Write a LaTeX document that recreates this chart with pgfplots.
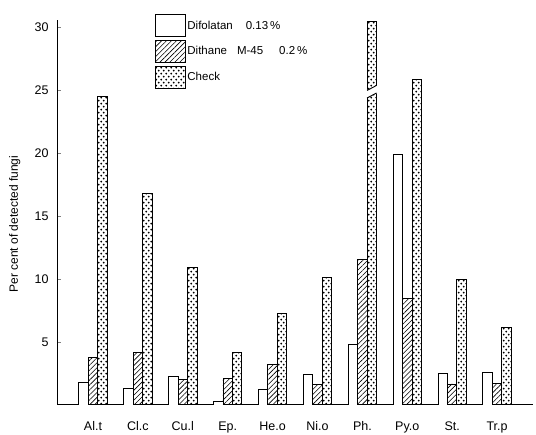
\documentclass[border=0pt]{standalone}
\usepackage{pgfplots}
\pgfplotsset{compat=1.18}
\usepackage{fontspec}
\setmainfont{Liberation Sans}
\usetikzlibrary{patterns,patterns.meta}
\tikzdeclarepattern{
  name=bigdots,
  type=uncolored,
  bottom left={(-.1pt,-.1pt)},
  top right={(5.1pt,6.1pt)},
  tile size={(5pt,6pt)},
  code={\fill (1.2pt,1.4pt) circle (1pt); \fill (3.7pt,4.4pt) circle (1pt);}
}
\pgfplotstableread{
x a b c
0 1.8 3.75 24.5
1 1.3 4.2 16.8
2 2.3 2.05 10.9
3 0.25 2.1 4.2
4 1.2 3.2 7.3
5 2.4 1.6 10.1
6 4.8 11.6 30.5
7 19.9 8.5 25.9
8 2.5 1.67 10.0
9 2.6 1.7 6.2
}\data
\begin{document}
\begin{tikzpicture}
\begin{axis}[
  name=ax,
  scale only axis,
  width=475pt, height=385pt,
  xmin=-0.78, xmax=9.8,
  ymin=0, ymax=30.6,
  axis x line=bottom, axis y line=left,
  axis line style={-, line width=1pt},
  ytick={5,10,15,20,25,30},
  xtick={0,...,9},
  xticklabels={Al.t, Cl.c, Cu.l, Ep., He.o, Ni.o, Ph., Py.o, St., Tr.p},
  major x tick style={draw=none},
  major y tick style={line width=0.8pt},
  tick align=inside,
  major tick length=3pt,
  /pgf/number format/assume math mode=true,
  yticklabel style={font=\fontsize{12.5}{14}\selectfont, xshift=-6pt},
  xticklabel style={font=\fontsize{12.5}{14}\selectfont, yshift=-10pt},
  ylabel={Per cent of detected fungi},
  ylabel style={font=\fontsize{12}{14}\selectfont, at={(axis description cs:-0.072,0.47)}},
  ybar, bar width=0.21,
  legend style={draw=none, fill=none, at={(axis description cs:0.203,1.0156)}, anchor=north west,
    font=\fontsize{11.5}{13}\selectfont, row sep=3pt, inner sep=0pt, cells={anchor=west}},
  legend image code/.code={\draw[#1, line width=0.8pt] (0pt,-11pt) rectangle (30pt,11pt);},
]
\addplot[draw=black, line width=0.9pt, fill=white, bar shift=-0.21] table[x=x,y=a]{\data};
\addlegendentry{Difolatan\hspace{13pt}0.13\,\%}
\addplot[draw=black, line width=0.9pt, pattern={Lines[angle=45,distance=3.5pt,line width=0.6pt]}, bar shift=0] table[x=x,y=b]{\data};
\addlegendentry{Dithane\hspace{10pt}M-45\hspace{16pt}0.2\,\%}
\addplot[draw=black, line width=0.9pt, pattern=bigdots, pattern color=black, bar shift=0.21] table[x=x,y=c]{\data};
\addlegendentry{Check}
\fill[white] (axis cs:6.08,24.4) -- (axis cs:6.34,24.8) -- (axis cs:6.34,25.4) -- (axis cs:6.08,25.0) -- cycle;
\draw[line width=0.9pt] (axis cs:6.105,24.4) -- (axis cs:6.315,24.8);
\draw[line width=0.9pt] (axis cs:6.105,25.0) -- (axis cs:6.315,25.4);
\end{axis}
\pgfresetboundingbox
\path ([xshift=-58pt,yshift=-30pt]ax.south west) rectangle ([xshift=3pt,yshift=20pt]ax.north east);
\end{tikzpicture}
\end{document}
